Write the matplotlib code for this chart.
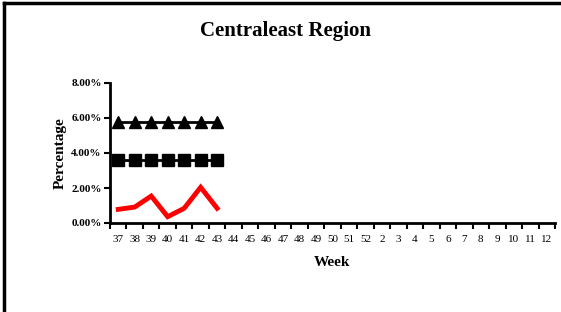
import numpy as np
import matplotlib.pyplot as plt
from matplotlib.lines import Line2D

weeks = ['37', '38', '39', '40', '41', '42', '43', '44', '45', '46', '47', '48', '49', '50',
         '51', '52', '2', '3', '4', '5', '6', '7', '8', '9', '10', '11', '12']
observed = [0.78, 0.91, 1.54, 0.36, 0.84, 2.04, 0.84]
baseline = [3.58, 3.58, 3.58, 3.58, 3.58, 3.58, 3.58]
threshold = [5.76, 5.76, 5.76, 5.76, 5.76, 5.76, 5.76]
yticks = [0, 2, 4, 6, 8]

plt.rcParams['font.family'] = ['Liberation Serif', 'DejaVu Serif']

fig = plt.figure(figsize=(5.61, 3.12), dpi=100)
ax = fig.add_axes([110/561, 1 - 223/312, 445/561, 140/312])

x = np.arange(len(observed))
ax.plot(x, threshold, color='black', lw=2, marker='^', markersize=8, zorder=3)
ax.plot(x, baseline, color='black', lw=2, marker='s', markersize=8, zorder=3)
ax.plot(x, observed, color='#ff0000', lw=3.5, solid_joinstyle='miter', zorder=4)

ax.set_xlim(-0.5, len(weeks) - 0.5)
ax.set_ylim(0, 8)
ax.set_xticks(np.arange(len(weeks) + 1) - 0.5)
ax.set_xticklabels([])
ax.set_xticks(np.arange(len(weeks)), minor=True)
ax.set_xticklabels(weeks, minor=True, fontsize=8)
ax.tick_params(axis='x', which='major', direction='out', length=4, width=1.5)
ax.tick_params(axis='x', which='minor', length=0, pad=9)
ax.set_yticks(yticks)
ax.set_yticklabels([f'{v:.2f}%' for v in yticks], fontsize=8, fontweight='bold')
ax.tick_params(axis='y', direction='out', length=4, width=1.5, pad=2)

for s in ['top', 'right']:
    ax.spines[s].set_visible(False)
for s in ['left', 'bottom']:
    ax.spines[s].set_linewidth(2)

fig.text(285/561, 1 - 31/312, 'Centraleast Region', ha='center', va='center',
         fontsize=15, fontweight='bold')
fig.text(60/561, 1 - 153/312, 'Percentage', ha='center', va='center', rotation=90,
         fontsize=11, fontweight='bold')
fig.text(332/561, 1 - 263/312, 'Week', ha='center', va='center',
         fontsize=11, fontweight='bold')

# frame on the top and left edges
fig.add_artist(Line2D([4/561, 4/561], [0, 1 - 3/312], transform=fig.transFigure,
                      color='black', lw=2.5))
fig.add_artist(Line2D([4/561, 1], [1 - 3/312, 1 - 3/312], transform=fig.transFigure,
                      color='black', lw=2.5))

fig.savefig('out.png', dpi=100)
